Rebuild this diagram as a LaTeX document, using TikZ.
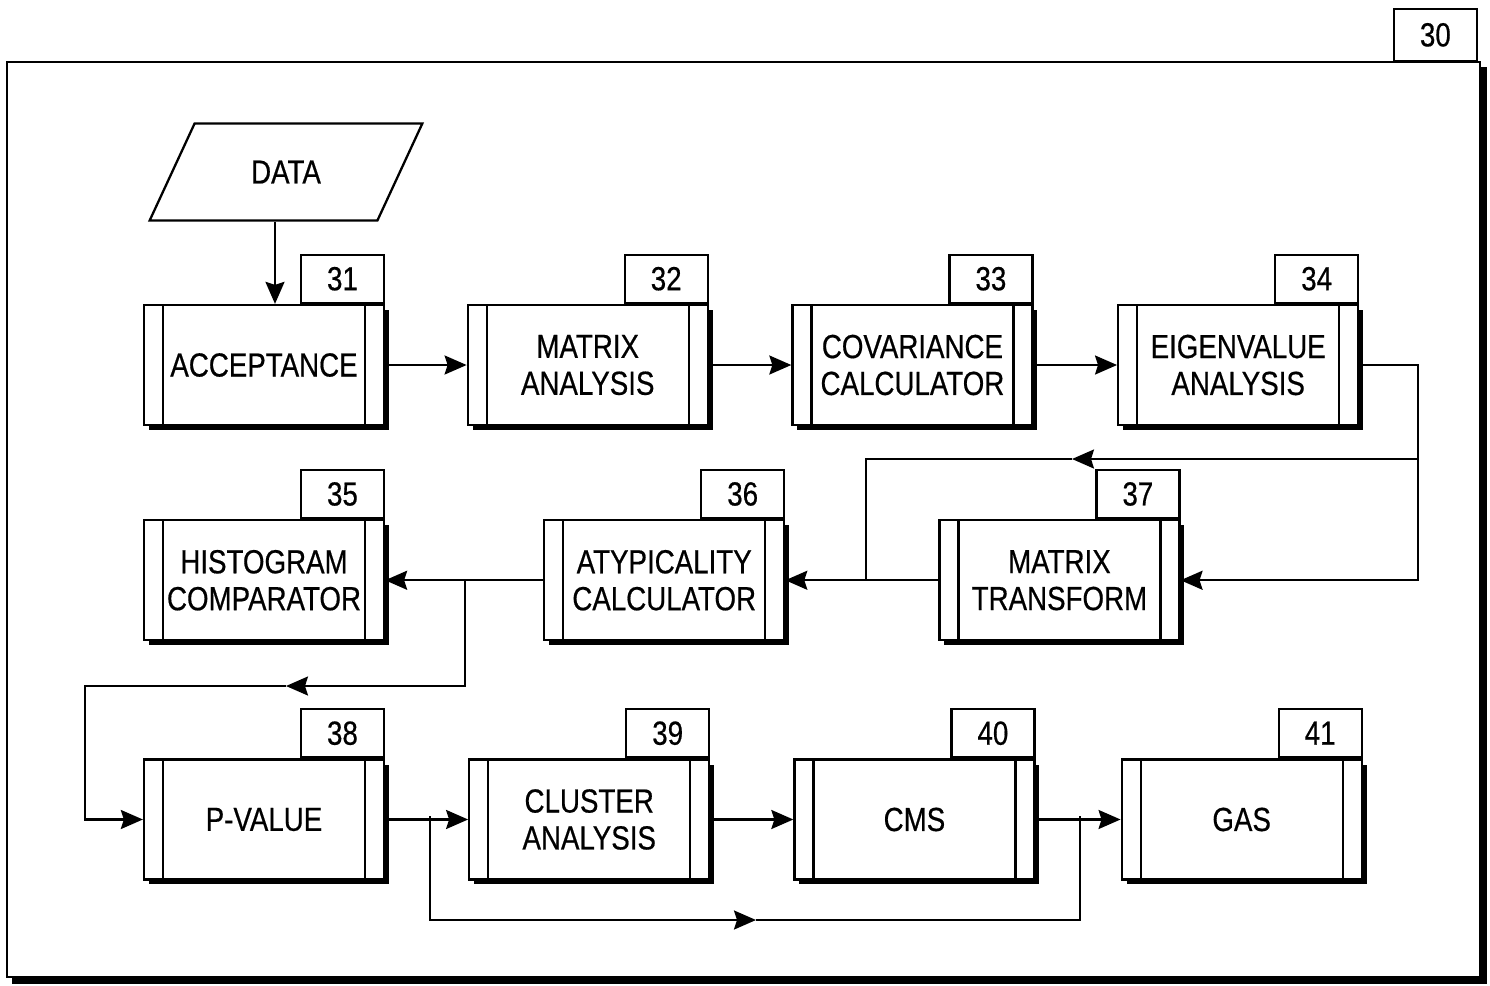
\documentclass[tikz,border=0pt]{standalone}
\usepackage{fontspec}
\setmainfont{Liberation Sans}[FakeStretch=0.83,FakeBold=0.5]
\usepackage{tikz}
\usetikzlibrary{positioning,arrows.meta,shapes.geometric,shadows}

\begin{document}
\begin{tikzpicture}[x=0.02cm,y=-0.02cm,line width=1.3pt,>={Stealth[length=4.4mm,width=3.8mm,inset=0.6mm]},font=\fontsize{19}{21}\selectfont]
\tikzstyle{proc}=[draw,fill=white,minimum width=4.8cm,minimum height=2.4cm,align=center,inner sep=0pt,
  drop shadow={shadow xshift=0.1cm,shadow yshift=-0.1cm,opacity=1,fill=black},
  path picture={\draw ([xshift=0.38cm]path picture bounding box.north west) -- ([xshift=0.38cm]path picture bounding box.south west)
    ([xshift=-0.38cm]path picture bounding box.north east) -- ([xshift=-0.38cm]path picture bounding box.south east);}]
\tikzstyle{numbox}=[draw,fill=white,minimum width=1.66cm,minimum height=0.96cm,anchor=south east,inner sep=0pt]
\useasboundingbox (0,0) rectangle (1490,985);
% outer frame
\draw[fill=black] (13,68) rectangle (1486,983);
\draw[fill=white] (7,62) rectangle (1480,977);
\node[numbox,minimum height=1.04cm] (t30) at (1478,62) {30};
% input
\node[draw,fill=white,trapezium,trapezium left angle=60,trapezium right angle=120,trapezium stretches=true,minimum height=1.94cm,minimum width=5.48cm] (data) at (286,172) {DATA};
% blocks
\node[proc] (b31) at (264,365) {ACCEPTANCE};
\node[proc,right=1.63cm of b31] (b32) {MATRIX\\ANALYSIS};
\node[proc,right=1.65cm of b32] (b33) {COVARIANCE\\CALCULATOR};
\node[proc,right=1.67cm of b33] (b34) {EIGENVALUE\\ANALYSIS};
\node[proc,below=1.86cm of b31] (b35) {HISTOGRAM\\COMPARATOR};
\node[proc,right=3.16cm of b35] (b36) {ATYPICALITY\\CALCULATOR};
\node[proc,right=3.06cm of b36] (b37) {MATRIX\\TRANSFORM};
\node[proc,below=2.34cm of b35] (b38) {P-VALUE};
\node[proc,right=1.66cm of b38] (b39) {CLUSTER\\ANALYSIS};
\node[proc,right=1.66cm of b39] (b40) {CMS};
\node[proc,right=1.7cm of b40] (b41) {GAS};
% reference numbers
\node[numbox] (t31) at (b31.north east) {31};
\node[numbox] (t32) at (b32.north east) {32};
\node[numbox] (t33) at (b33.north east) {33};
\node[numbox] (t34) at (b34.north east) {34};
\node[numbox] (t35) at (b35.north east) {35};
\node[numbox] (t36) at (b36.north east) {36};
\node[numbox] (t37) at (b37.north east) {37};
\node[numbox] (t38) at (b38.north east) {38};
\node[numbox] (t39) at (b39.north east) {39};
\node[numbox] (t40) at (b40.north east) {40};
\node[numbox] (t41) at (b41.north east) {41};
% connections
\draw[->] ([xshift=0.22cm]b31.north |- data.south) -- ([xshift=0.22cm]b31.north);
\draw[->] (b31) -- (b32);
\draw[->] (b32) -- (b33);
\draw[->] (b33) -- (b34);
\coordinate (r1) at (1418,459);
\coordinate (m1) at (1072,459);
\coordinate (j36) at (866,579);
\draw[->] (b34.east) -| (r1) |- (b37.east);
\draw[->] (r1) -- (m1);
\draw (m1) -| (j36);
\draw[->] (b37) -- (b36);
\draw[->] (b36) -- (b35);
\coordinate (j35) at (465,579);
\coordinate (m2) at (286,686);
\draw[->] (j35) |- (m2);
\draw[->] (m2) -| ([xshift=-1.16cm]b38.west) -- (b38.west);
\draw[->] (b38) -- (b39);
\coordinate (j38) at (430,816);
\coordinate (m3) at (756,920);
\coordinate (j40) at (1080,816);
\draw[->] (j38) |- (m3);
\draw (m3) -| (j40);
\draw[->] (b39) -- (b40);
\draw[->] (b40) -- (b41);
\end{tikzpicture}
\end{document}
